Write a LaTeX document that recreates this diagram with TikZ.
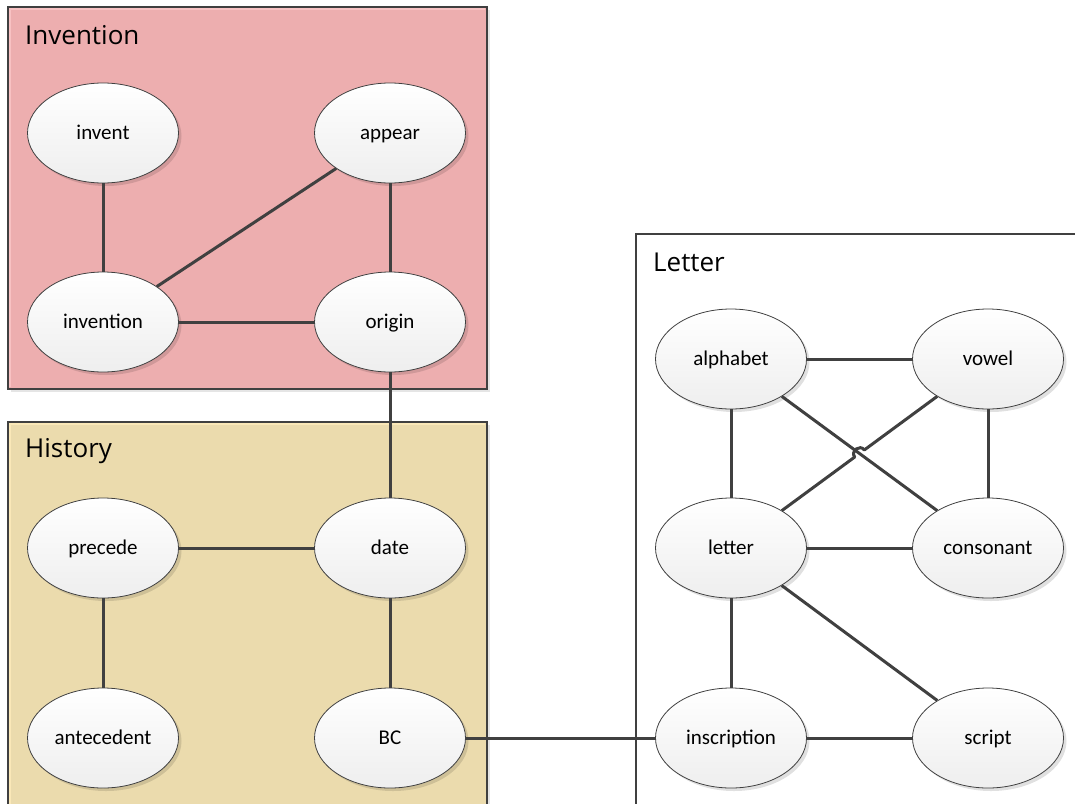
\documentclass[tikz,border=0pt]{standalone}
\usepackage{fontspec}
\setmainfont{Carlito}
\newfontfamily\titlefont{Open Sans}
\usetikzlibrary{shapes.geometric,shadows,calc}

\definecolor{linegray}{HTML}{404040}
\definecolor{invfill}{HTML}{EDAEAF}
\definecolor{invhi}{HTML}{F8C2C3}
\definecolor{hisfill}{HTML}{EBDBAD}
\definecolor{hishi}{HTML}{FAE8B8}
\definecolor{nodetop}{HTML}{FFFFFF}
\definecolor{nodebot}{HTML}{EEEEEE}

\tikzset{
  term/.style={ellipse, draw=linegray, line width=0.8pt,
    top color=nodetop, bottom color=nodebot,
    minimum width=151pt, minimum height=100pt, inner sep=0pt,
    text height=12pt, text depth=0pt,
    font=\fontsize{21}{25}\selectfont,
    drop shadow={shadow xshift=3pt, shadow yshift=-3pt, opacity=0.12, fill=black}},
  link/.style={draw=linegray, line width=3pt},
  groupbox/.style={draw=linegray, line width=1pt,
    drop shadow={shadow xshift=3pt, shadow yshift=-3pt, opacity=0.1, fill=black}},
  grouptitle/.style={anchor=west, inner sep=0pt, font=\titlefont\fontsize{26}{30}\selectfont}
}

\begin{document}
\begin{tikzpicture}[x=1pt, y=-1pt]
\useasboundingbox (0,0) rectangle (1075,803);
\clip (0,0) rectangle (1075,803);

% group frames
\fill[white] (0,0) rectangle (1075,803);
\path[groupbox, fill=invfill] (8,7) rectangle (487,389);
\draw[invhi, line width=2pt] (10,387) -- (10,9) -- (485,9);
\draw[linegray, line width=1.2pt] (8,7) rectangle (487,389);

\path[groupbox, fill=hisfill] (8,422) rectangle (487,830);
\draw[hishi, line width=2pt] (10,830) -- (10,424) -- (485,424);
\draw[linegray, line width=1.2pt] (8,422) rectangle (487,830);

\path[groupbox, fill=white, line width=1.2pt] (636,234) rectangle (1100,830);

\node[grouptitle] (tInv) at (25,35) {Invention};
\node[grouptitle] (tHis) at (25,451) {History};
\node[grouptitle] (tLet) at (653,262) {Letter};

% terms
\node[term] (invent)      at (103,133) {invent};
\node[term] (appear)      at (390,133) {appear};
\node[term] (invention)   at (103,322) {invention};
\node[term] (origin)      at (390,322) {origin};
\node[term] (precede)     at (103,548) {precede};
\node[term] (date)        at (390,548) {date};
\node[term] (antecedent)  at (103,738) {antecedent};
\node[term] (BC)          at (390,738) {BC};
\node[term] (alphabet)    at (731,359) {alphabet};
\node[term] (vowel)       at (988,359) {vowel};
\node[term] (letter)      at (731,548) {letter};
\node[term] (consonant)   at (988,548) {consonant};
\node[term] (inscription) at (731,738) {inscription};
\node[term] (script)      at (988,738) {script};

% links
\draw[link] (invent) -- (invention);
\draw[link] (invention) -- (appear);
\draw[link] (appear) -- (origin);
\draw[link] (invention) -- (origin);
\draw[link] (origin) -- (date);
\draw[link] (precede) -- (date);
\draw[link] (precede) -- (antecedent);
\draw[link] (date) -- (BC);
\draw[link] (BC) -- (inscription);
\draw[link] (alphabet) -- (vowel);
\draw[link] (alphabet) -- (letter);
\draw[link] (vowel) -- (consonant);
\draw[link] (letter) -- (consonant);
\draw[link] (letter) -- (inscription);
\draw[link] (letter) -- (script);
\draw[link] (inscription) -- (script);
\draw[link] (alphabet) -- (consonant);

% letter--vowel hops over alphabet--consonant
\coordinate (cross) at ($(letter)!0.5!(vowel)$);
\coordinate (hopA) at ($(cross)!6pt!(letter)$);
\coordinate (hopB) at ($(cross)!6pt!(vowel)$);
\draw[link, line join=round] (letter) -- (hopA) to[bend left=90, looseness=1.6] (hopB) -- (vowel);
\end{tikzpicture}
\end{document}
